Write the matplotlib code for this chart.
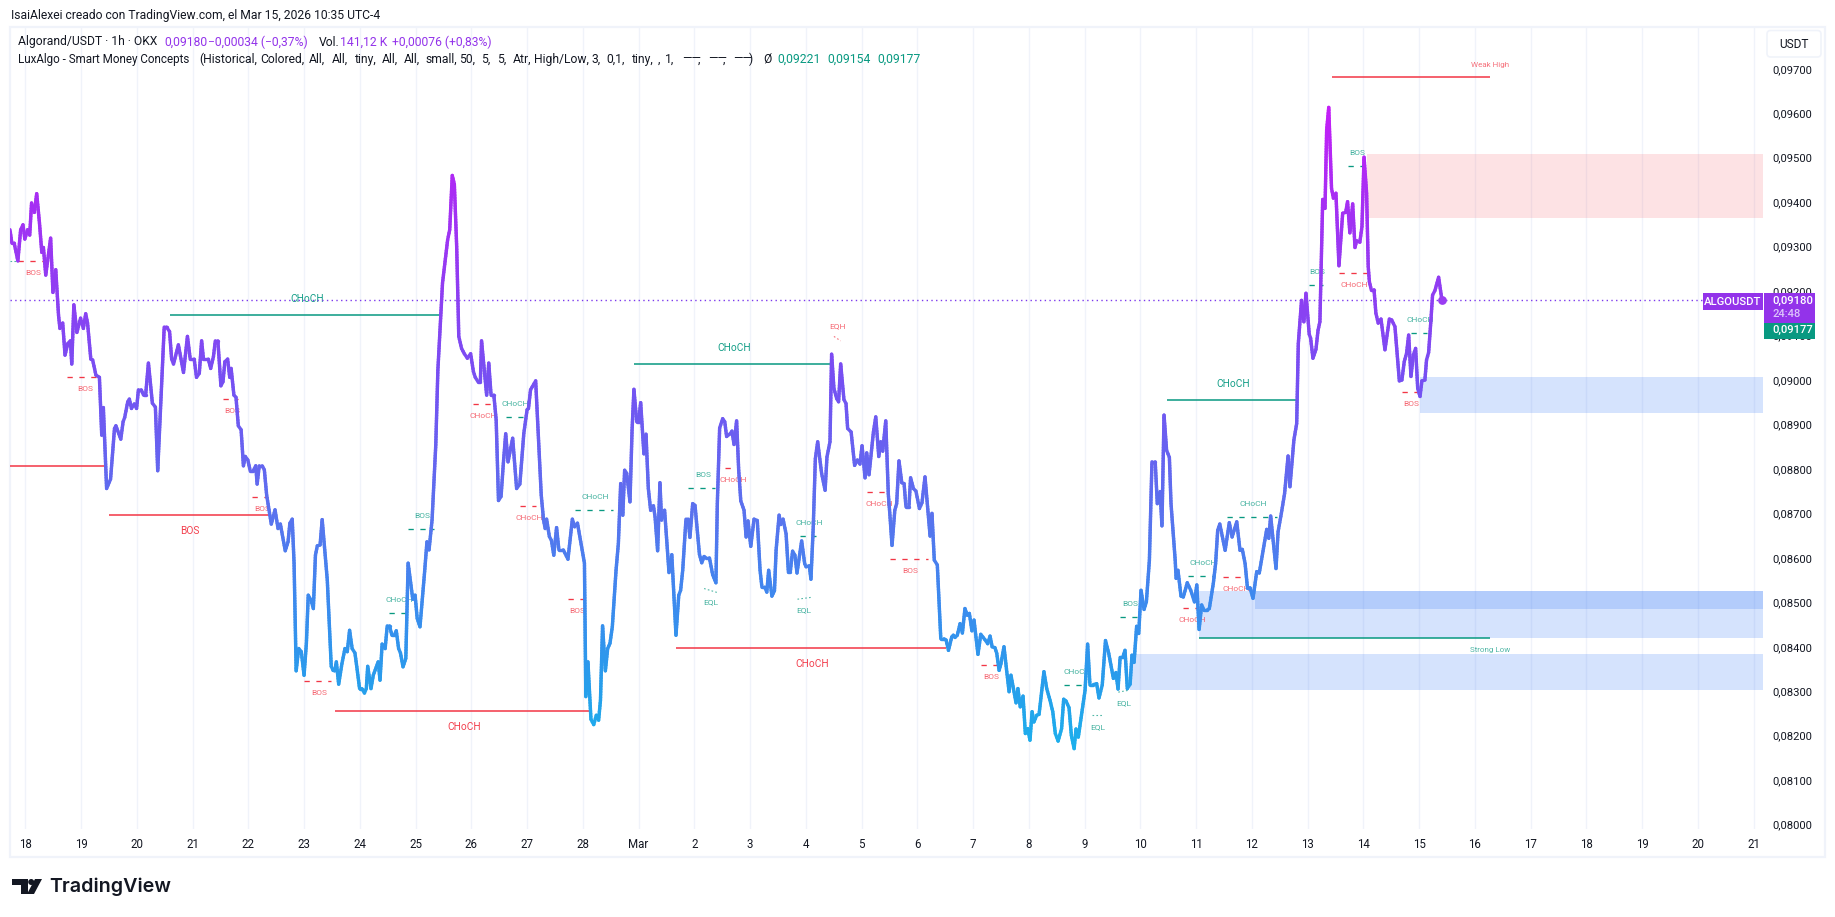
import numpy as np
import matplotlib
matplotlib.use("Agg")
import matplotlib.pyplot as plt
from matplotlib.collections import LineCollection
from matplotlib.colors import LinearSegmentedColormap
from matplotlib.patches import Circle, FancyBboxPatch, Polygon, Rectangle

W, H = 1835, 917
plt.rcParams["font.family"] = ["Roboto", "DejaVu Sans"]

GREEN = "#089981"
RED = "#f23645"
BLUE = "#2d73f5"
PURPLE = "#9333ea"
INK = "#131722"

# hourly closes, hours counted from 18 Feb 00:00, price in 1e-5 USDT
hours = [
    -6.6, -5.8, -4.8, -3.2, -2.0, -1.0, -0.2, 1.0, 1.9, 2.7, 3.9, 4.9, 6.1, 7.1, 7.8, 8.8, 10.9, 11.9, 13.1, 14.3,
    14.9, 16.1, 17.1, 18.3, 19.4, 20.0, 20.9, 22.2, 23.8, 25.0, 26.0, 26.8, 28.2, 29.0, 30.4, 31.9, 32.9, 33.6, 35.0, 36.7,
    38.4, 39.0, 41.1, 42.1, 42.8, 44.1, 44.8, 45.7, 46.9, 47.9, 48.7, 49.9, 50.9, 51.8, 53.0, 54.7, 56.0, 57.0, 59.8, 60.8,
    62.1, 63.0, 63.8, 65.9, 68.1, 69.8, 71.0, 72.7, 73.7, 74.9, 75.9, 76.7, 78.8, 79.8, 81.0, 81.8, 82.9, 84.2, 85.1, 85.9,
    87.1, 88.0, 88.6, 89.8, 90.7, 91.7, 92.9, 93.9, 94.7, 95.8, 96.8, 98.1, 99.2, 99.8, 100.7, 102.0, 102.9, 103.9, 105.9, 107.5,
    108.8, 109.8, 111.9, 113.1, 113.9, 114.9, 115.7, 116.6, 117.7, 118.8, 120.0, 121.0, 121.8, 123.0, 124.0, 124.9, 125.7, 126.9, 127.8, 130.0,
    131.7, 132.5, 133.2, 133.9, 134.9, 136.3, 137.6, 138.6, 139.6, 140.7, 141.9, 142.7, 143.9, 144.9, 146.0, 146.8, 147.4, 148.8, 149.8, 151.9,
    152.7, 153.6, 154.9, 155.8, 156.8, 157.8, 158.8, 159.7, 160.7, 161.5, 162.6, 163.8, 164.8, 166.8, 167.8, 168.7, 169.9, 171.9, 172.9, 173.8,
    175.1, 176.7, 177.6, 179.6, 181.8, 182.7, 183.8, 184.7, 185.7, 186.6, 187.8, 189.0, 190.3, 191.7, 192.9, 193.7, 194.9, 195.9, 196.4, 198.6,
    199.5, 200.5, 201.7, 202.7, 203.7, 204.8, 205.8, 206.8, 207.8, 209.8, 211.5, 212.9, 214.6, 216.0, 216.6, 217.5, 219.7, 222.1, 223.1, 223.8,
    224.4, 225.6, 226.5, 227.5, 228.7, 229.7, 231.6, 233.6, 235.5, 236.5, 237.7, 240.7, 241.3, 242.2, 243.5, 244.7, 245.8, 246.8, 247.6, 248.5,
    249.7, 250.7, 251.7, 252.7, 254.3, 255.3, 256.3, 257.2, 258.0, 258.9, 260.3, 261.2, 262.0, 263.2, 264.0, 264.9, 266.3, 267.2, 268.2, 269.2,
    270.4, 271.1, 272.2, 273.2, 273.9, 275.2, 277.1, 278.3, 280.1, 281.3, 282.1, 283.0, 284.4, 285.3, 286.1, 287.3, 288.3, 290.2, 291.2, 292.2,
    293.0, 294.5, 295.9, 297.3, 297.9, 298.9, 300.2, 301.1, 301.9, 303.4, 304.2, 305.1, 306.2, 307.1, 308.0, 309.4, 310.3, 311.1, 312.3, 313.7,
    315.1, 316.3, 317.1, 318.3, 319.2, 320.0, 321.4, 322.5, 323.2, 324.5, 325.2, 326.2, 327.5, 328.5, 329.3, 330.3, 331.3, 332.2, 334.2, 335.5,
    336.1, 337.5, 338.2, 339.2, 340.1, 341.1, 342.8, 344.3, 345.1, 346.4, 347.1, 348.1, 349.3, 350.1, 351.0, 352.4, 353.3, 354.0, 355.5, 357.0,
    358.2, 359.3, 360.2, 361.5, 362.2, 363.2, 365.1, 366.1, 367.4, 368.2, 369.1, 370.4, 371.5, 372.2, 373.1, 374.3, 375.1, 376.1, 377.3, 378.3,
    379.1, 380.4, 381.1, 382.3, 383.4, 384.9, 386.0, 387.3, 389.5, 390.3, 391.3, 392.6, 394.1, 395.5, 396.4, 397.4, 398.8, 399.5, 400.2, 401.2,
    402.4, 403.4, 404.5, 405.5, 406.4, 407.5, 408.4, 410.1, 411.3, 413.1, 414.3, 415.3, 416.2, 417.4, 418.2, 419.2, 420.0, 421.3, 422.5, 423.5,
    424.3, 426.5, 427.3, 428.3, 429.5, 430.5, 431.5, 432.5, 433.4, 434.2, 435.4, 436.4, 438.5, 439.7, 441.1, 442.3, 443.4, 444.6, 446.1, 447.0,
    448.0, 449.3, 450.3, 451.5, 452.3, 453.3, 456.2, 457.3, 458.3, 459.8, 461.2, 462.2, 463.6, 465.0, 466.4, 468.4, 469.5, 470.4, 471.3, 472.4,
    473.4, 474.4, 475.6, 476.4, 477.3, 478.4, 479.3, 480.3, 481.6, 482.6, 483.9, 485.0, 486.4, 487.3, 488.5, 489.3, 490.2, 491.3, 492.5, 493.2,
    495.0, 495.4, 496.2, 497.5, 498.5, 500.2, 501.7, 503.3, 504.3, 505.3, 506.4, 507.4, 508.6, 509.7, 511.4, 512.4, 513.3, 514.2, 516.5, 518.3,
    519.5, 521.5, 522.9, 523.9, 525.1, 526.1, 527.2, 528.5, 530.1, 531.2, 534.4, 535.3, 536.1, 538.4, 539.3, 540.7, 542.1, 543.6, 544.4, 546.1,
    547.3, 548.0, 549.4, 550.4, 551.3, 552.7, 553.3, 554.3, 555.6, 556.5, 557.3, 558.5, 559.5, 560.2, 561.1, 562.3, 563.1, 564.2, 565.5, 567.1,
    568.4, 569.2, 570.2, 571.4, 572.4, 573.1, 574.5, 575.4, 576.3, 577.4, 578.1, 578.6, 579.4, 580.6, 581.4, 582.4, 583.6, 585.3, 587.2, 588.2,
    589.6, 591.5, 592.6, 593.6, 594.6, 595.5, 596.5, 597.5, 598.5, 599.4, 600.4, 601.2, 602.5, 603.2, 604.1, 605.0, 605.8, 606.8, 608.4, 609.6,
    610.0,
]
closes = [
    9338, 9308, 9308, 9268, 9338, 9349, 9317, 9338, 9326, 9398, 9377, 9419, 9353, 9287, 9298, 9236, 9319, 9197, 9248, 9146,
    9116, 9128, 9056, 9082, 9088, 9036, 9169, 9107, 9139, 9116, 9149, 9128, 9047, 9045, 9011, 9006, 8876, 8938, 8756, 8777,
    8891, 8897, 8867, 8906, 8916, 8951, 8957, 8936, 8946, 8936, 8978, 8978, 8966, 8966, 9038, 8948, 8939, 8796, 9119, 9119,
    9109, 9047, 9036, 9079, 9017, 9098, 9047, 9047, 9006, 9015, 9088, 9047, 9047, 9026, 9053, 9088, 9088, 8987, 8996, 9041,
    9047, 9006, 9026, 8966, 8961, 8897, 8888, 8807, 8828, 8820, 8796, 8796, 8807, 8766, 8807, 8807, 8798, 8741, 8676, 8708,
    8666, 8676, 8616, 8636, 8678, 8687, 8588, 8346, 8396, 8389, 8336, 8408, 8516, 8505, 8486, 8606, 8627, 8629, 8686, 8550,
    8356, 8347, 8346, 8366, 8316, 8362, 8396, 8389, 8437, 8396, 8386, 8355, 8306, 8306, 8296, 8306, 8356, 8306, 8336, 8366,
    8325, 8406, 8396, 8447, 8447, 8426, 8426, 8436, 8396, 8386, 8355, 8374, 8588, 8507, 8516, 8464, 8445, 8569, 8636, 8618,
    8685, 8854, 9022, 9218, 9315, 9338, 9460, 9440, 9300, 9098, 9071, 9059, 9049, 9059, 9019, 9006, 8996, 8996, 9088, 8966,
    9038, 8966, 8966, 8910, 8729, 8738, 8813, 8879, 8816, 8869, 8756, 8766, 8880, 8933, 8936, 8978, 8998, 8741, 8685, 8666,
    8687, 8648, 8639, 8606, 8668, 8618, 8618, 8597, 8687, 8670, 8678, 8588, 8288, 8366, 8237, 8225, 8246, 8235, 8280, 8447,
    8346, 8396, 8408, 8445, 8572, 8632, 8767, 8696, 8797, 8790, 8726, 8887, 8979, 8906, 8906, 8949, 8834, 8878, 8756, 8707,
    8717, 8692, 8616, 8769, 8685, 8707, 8567, 8607, 8426, 8516, 8527, 8572, 8687, 8687, 8646, 8722, 8718, 8608, 8589, 8603,
    8600, 8600, 8562, 8544, 8722, 8892, 8913, 8906, 8873, 8879, 8885, 8855, 8908, 8797, 8728, 8707, 8647, 8683, 8626, 8687,
    8684, 8572, 8534, 8534, 8523, 8572, 8514, 8526, 8617, 8696, 8675, 8687, 8654, 8568, 8568, 8615, 8606, 8566, 8638, 8587,
    8580, 8582, 8552, 8670, 8823, 8861, 8790, 8752, 8827, 8861, 9058, 8981, 8958, 8951, 9036, 8956, 8947, 8891, 8883, 8808,
    8820, 8811, 8852, 8780, 8836, 8787, 8883, 8917, 8828, 8861, 8840, 8908, 8744, 8696, 8628, 8707, 8722, 8818, 8769, 8767,
    8715, 8715, 8780, 8756, 8750, 8711, 8724, 8782, 8649, 8700, 8595, 8584, 8418, 8418, 8415, 8392, 8422, 8426, 8421, 8426,
    8452, 8431, 8486, 8471, 8475, 8436, 8460, 8383, 8428, 8416, 8407, 8424, 8400, 8398, 8385, 8347, 8362, 8400, 8344, 8299,
    8336, 8274, 8306, 8265, 8289, 8205, 8216, 8190, 8254, 8231, 8246, 8248, 8344, 8306, 8280, 8254, 8205, 8188, 8216, 8282,
    8278, 8263, 8201, 8171, 8215, 8197, 8302, 8406, 8315, 8315, 8317, 8285, 8314, 8414, 8385, 8329, 8342, 8305, 8376, 8376,
    8392, 8306, 8316, 8381, 8365, 8446, 8430, 8527, 8484, 8501, 8595, 8816, 8816, 8722, 8749, 8672, 8921, 8842, 8826, 8722,
    8595, 8554, 8572, 8514, 8512, 8544, 8527, 8501, 8539, 8439, 8494, 8482, 8482, 8486, 8542, 8587, 8662, 8676, 8617, 8679,
    8647, 8681, 8617, 8619, 8587, 8533, 8533, 8509, 8569, 8566, 8664, 8644, 8694, 8576, 8659, 8700, 8745, 8829, 8760, 8865,
    8902, 9082, 9179, 9131, 9195, 9103, 9094, 9049, 9069, 9112, 9131, 9406, 9386, 9562, 9613, 9431, 9409, 9420, 9257, 9375,
    9377, 9401, 9331, 9396, 9298, 9313, 9310, 9345, 9501, 9420, 9255, 9221, 9203, 9203, 9150, 9128, 9137, 9068, 9137, 9135,
    9120, 8998, 9000, 9041, 9060, 9101, 9008, 9056, 9071, 8981, 8963, 8998, 9000, 9045, 9062, 9128, 9191, 9201, 9231, 9188,
    9180,
]

day_labels = ["18", "19", "20", "21", "22", "23", "24", "25", "26", "27", "28", "Mar",
              "2", "3", "4", "5", "6", "7", "8", "9", "10", "11", "12", "13", "14",
              "15", "16", "17", "18", "19", "20", "21"]
price_ticks = list(range(8000, 9701, 100))

# order blocks: first hour, top, bottom, colour
zone_start = [577.5, 600.4, 505.2, 529.4, 475.5]
zone_top = [9508, 9007, 8525, 8525, 8384]
zone_bottom = [9365, 8926, 8419, 8485, 8303]
zone_color = [RED, BLUE, BLUE, BLUE, BLUE]

# swing structure, solid lines with the larger labels
swing_start = [-6.6, 36.0, 62.3, 133.3, 262.0, 280.1, 491.5]
swing_end = [34.2, 104.8, 178.8, 243.4, 346.7, 396.2, 547.3]
swing_price = [8807, 8696, 9146, 8256, 9035, 8397, 8954]
swing_text = ["", "BOS", "CHoCH", "CHoCH", "CHoCH", "CHoCH", "CHoCH"]
swing_color = [RED, RED, GREEN, RED, GREEN, RED, GREEN]

# strong and weak extremes
extreme_start = [562.5, 505.2]
extreme_end = [630.5, 630.5]
extreme_price = [9681, 8419]
extreme_text = ["Weak High", "Strong Low"]
extreme_color = [RED, GREEN]

# internal structure, dashed lines with the small labels
inner_start = [-3.2, 18.0, 85.1, 97.8, 164.7, 192.7, 206.8, 212.9, 236.5, 156.5, 119.8, 233.5, 285.3, 301.2, 333.5,
               362.2, 372.2, 411.4, 447.1, 471.3, 498.4, 500.5, 515.6, 517.3, 552.6, 569.4, 565.5, 596.5, 592.6]
inner_end = [8.7, 32.4, 91.5, 104.6, 175.9, 200.5, 214.1, 220.0, 253.1, 164.4, 131.7, 240.8, 296.9, 307.0, 340.4,
             372.0, 388.7, 418.9, 457.6, 478.4, 505.0, 512.2, 525.5, 538.7, 558.5, 576.3, 577.4, 603.2, 599.7]
inner_price = [9267, 9006, 8957, 8736, 8666, 8945, 8916, 8716, 8707, 8475, 8324, 8507, 8756, 8801, 8650,
               8747, 8598, 8358, 8315, 8466, 8488, 8560, 8556, 8693, 9213, 9481, 9240, 9105, 8972]
inner_text = ["BOS", "BOS", "BOS", "BOS", "BOS", "CHoCH", "CHoCH", "CHoCH", "CHoCH", "CHoCH", "BOS", "BOS", "BOS", "CHoCH", "CHoCH",
              "CHoCH", "BOS", "BOS", "CHoCH", "BOS", "CHoCH", "CHoCH", "CHoCH", "CHoCH", "BOS", "BOS", "CHoCH", "CHoCH", "BOS"]
inner_color = [RED, RED, RED, RED, GREEN, RED, GREEN, RED, GREEN, GREEN, RED, RED, GREEN, RED, GREEN,
               RED, RED, RED, GREEN, GREEN, RED, GREEN, RED, GREEN, GREEN, GREEN, RED, GREEN, RED]

# equal highs and lows, dotted
equal_start = [-6.6, 292.2, 332.4, 459.2, 470.5, 348.1]
equal_end = [-3.2, 297.9, 338.1, 464.1, 474.8, 351.0]
equal_from = [9268, 8531, 8507, 8246, 8298, 9098]
equal_to = [9268, 8522, 8511, 8246, 8302, 9088]
equal_text = ["", "EQL", "EQL", "EQL", "EQL", "EQH"]
equal_color = [GREEN, GREEN, GREEN, GREEN, GREEN, RED]

# indicator settings, printed one by one because the legend spaces them widely
setting_text = ["LuxAlgo - Smart Money Concepts", "(Historical,", "Colored,", "All,", "All,", "tiny,", "All,", "All,",
                "small,", "50,", "5,", "5,", "Atr,", "High/Low,", "3,", "0,1,", "tiny,", ",", "1,",
                "——", ",", "——", ",", "——", ")"]
setting_x = [18, 199, 260.6, 309, 331.5, 354.5, 382, 404,
             426, 459, 480.6, 497, 512.7, 533.5, 592, 606, 631.5, 658, 665,
             682, 697.5, 708, 723, 733, 749]

last_close = closes[-1]
last_signal = 9177
hours_left = (10 - 25.3) / 2.323
hours_right = (1763 - 25.3) / 2.323


def fx(px):
    return px / W


def fy(px):
    return 1 - px / H


def ftext(x, y, s, color=INK, size=8.72, ha="left", **kw):
    return fig.text(fx(x), fy(y), s, color=color, fontsize=size, ha=ha, va="center", zorder=8, **kw)


def price_str(v):
    return f"{v / 1e5:.5f}".replace(".", ",")


def gradient_line(ax, xs, ys, cmap, low, high):
    # split long legs so the colour follows the price inside each leg
    segs, vals = [], []
    for x0, x1, y0, y1 in zip(xs[:-1], xs[1:], ys[:-1], ys[1:]):
        n = max(1, int(abs(y1 - y0) / 6))
        px = np.linspace(x0, x1, n + 1)
        py = np.linspace(y0, y1, n + 1)
        for i in range(n):
            segs.append([(px[i], py[i]), (px[i + 1], py[i + 1])])
            vals.append((py[i] + py[i + 1]) / 2)
    lc = LineCollection(segs, cmap=cmap, linewidths=2.45, capstyle="round", zorder=5)
    lc.set_array(np.array(vals))
    lc.set_clim(low, high)
    ax.add_collection(lc)


fig = plt.figure(figsize=(W / 100, H / 100), dpi=100, facecolor="white")

# outer frame of the chart panel
fig.add_artist(Rectangle((fx(9.5), fy(857)), (1825 - 9.5) / W, (857 - 26.5) / H, transform=fig.transFigure,
                         fill=False, edgecolor="#f0f3fa", linewidth=1.6, zorder=1))

ax = fig.add_axes([fx(10), fy(829), (1763 - 10) / W, (829 - 27) / H], facecolor="none", zorder=2)
ax.set_xlim(hours_left, hours_right)
ax.set_ylim(9000 - 449 * 2.249, 9000 + 353 * 2.249)
for spine in ax.spines.values():
    spine.set_visible(False)

ax.set_xticks([24 * i for i in range(len(day_labels))])
ax.set_xticklabels(day_labels, fontsize=8.3, color=INK)
ax.set_yticks(price_ticks)
ax.set_yticklabels([price_str(v) for v in price_ticks], fontsize=8.1, color=INK, ha="left")
ax.yaxis.tick_right()
ax.tick_params(axis="x", length=0, pad=6.5)
ax.tick_params(axis="y", length=0, pad=6.5)
ax.grid(axis="x", color="#f0f3fa", linewidth=1.0)
ax.set_axisbelow(True)

for start, top, bottom, color in zip(zone_start, zone_top, zone_bottom, zone_color):
    alpha = 0.14 if color == RED else 0.2
    ax.add_patch(Rectangle((start, bottom), hours_right - start, top - bottom, facecolor=color,
                           edgecolor="none", alpha=alpha, zorder=1))

for a, b, p, s, c in zip(swing_start, swing_end, swing_price, swing_text, swing_color):
    ax.plot([a, b], [p, p], color=c, linewidth=1.1, solid_capstyle="butt", zorder=3)
    off = 16 if c == GREEN else -16
    ax.annotate(s, ((a + b) / 2, p), xytext=(1, off * 0.72), textcoords="offset points", ha="center",
                va="center", color=c, fontsize=7.3, alpha=0.95, zorder=4)

for a, b, p, s, c in zip(extreme_start, extreme_end, extreme_price, extreme_text, extreme_color):
    ax.plot([a, b], [p, p], color=c, linewidth=1.1, solid_capstyle="butt", zorder=3)
    off = 12 if s == "Weak High" else -12
    ax.annotate(s, (b, p), xytext=(0, off * 0.72), textcoords="offset points", ha="center", va="center",
                color=c, fontsize=5.8, alpha=0.7, zorder=4)

for a, b, p, s, c in zip(inner_start, inner_end, inner_price, inner_text, inner_color):
    ax.plot([a, b], [p, p], color=c, linewidth=0.95, linestyle=(0, (4, 5)), dash_capstyle="butt", zorder=3)
    off = 13 if c == GREEN else -12
    ax.annotate(s, ((a + b) / 2, p), xytext=(1, off * 0.72), textcoords="offset points", ha="center",
                va="center", color=c, fontsize=6.0, alpha=0.75, zorder=4)

for a, b, p0, p1, s, c in zip(equal_start, equal_end, equal_from, equal_to, equal_text, equal_color):
    ax.plot([a, b], [p0, p1], color=c, linewidth=0.8, linestyle=(0, (1.5, 2)), alpha=0.7, zorder=3)
    off = 12 if s == "EQH" else -12
    ax.annotate(s, ((a + b) / 2, (p0 + p1) / 2), xytext=(0, off * 0.72), textcoords="offset points",
                ha="center", va="center", color=c, fontsize=6.0, alpha=0.75, zorder=4)

# close line with the price-following colour, plus the last price marker
price_cmap = LinearSegmentedColormap.from_list("close", [
    (0.0, "#1cb0ec"), (0.09, "#269feb"), (0.229, "#3c8aee"), (0.367, "#5a72ee"),
    (0.575, "#7650f2"), (0.714, "#8f3ef2"), (0.853, "#a62ff3"), (1.0, "#c41ef7")])
ax.axhline(last_close, xmax=(1703 - 10) / (1763 - 10), color="#7c3aed", linewidth=1.0,
           linestyle=(0, (1, 2.4)), zorder=4)
gradient_line(ax, hours, closes, price_cmap, 8170, 9613)
ax.plot([hours[-1]], [last_close], "o", color="#9a3cf2", markersize=6.3, markeredgewidth=0, zorder=6)

# header lines
ftext(11, 15, "IsaiAlexei creado con TradingView.com, el Mar 15, 2026 10:35 UTC-4")
ftext(18, 42, "Algorand/USDT · 1h · OKX")
ftext(164.8, 42, price_str(last_close), color=PURPLE)
ftext(208, 42, "−0,00034 (−0,37%)", color=PURPLE)
ftext(319, 42, "Vol.")
ftext(340, 42, "141,12 K", color=PURPLE)
ftext(391.5, 42, "+0,00076 (+0,83%)", color=PURPLE)
for x, s in zip(setting_x, setting_text):
    ftext(x, 59, s, size=8.35 if s.startswith("LuxAlgo") else 8.72)
ftext(763.6, 59, "Ø")
ftext(777.6, 59, "0,09221", color=GREEN)
ftext(827, 59, "0,09154", color=GREEN)
ftext(877, 59, price_str(last_signal), color=GREEN)

# price scale badges
fig.add_artist(FancyBboxPatch((fx(1767), fy(57)), (1821 - 1767) / W, 26.5 / H, transform=fig.transFigure,
                              boxstyle="round,pad=0,rounding_size=0.002", mutation_aspect=2, facecolor="white",
                              edgecolor="#f0f3fa", linewidth=1.2, zorder=5))
ftext(1794, 44, "USDT", ha="center", size=8.6)
for x0, x1, y0, y1, c in [(1703, 1763, 293, 310, PURPLE), (1764, 1815, 293, 323, PURPLE), (1764, 1815, 323, 339, GREEN)]:
    fig.add_artist(Rectangle((fx(x0), fy(y1)), (x1 - x0) / W, (y1 - y0) / H, transform=fig.transFigure,
                             facecolor=c, edgecolor="none", zorder=6))
ftext(1733, 302, "ALGOUSDT", color="white", ha="center", size=8.1, fontweight="medium")
ftext(1772, 301, price_str(last_close), color="white", size=8.1, fontweight="medium")
ftext(1772, 314, "24:48", color="#dcc4fb", size=8.1, fontweight="medium")
ftext(1772, 330, price_str(last_signal), color="white", size=8.1, fontweight="medium")

# footer logo
for pts in [[(12, 879), (28, 879), (28, 894), (21, 894), (21, 885), (12, 885)],
            [(35, 879), (42, 879), (34, 894), (27, 894)]]:
    fig.add_artist(Polygon([(fx(x), fy(y)) for x, y in pts], closed=True, transform=fig.transFigure,
                           facecolor=INK, edgecolor="none", zorder=6))
dot = Circle((31.2, H - 882), 3.0, transform=None, facecolor=INK, edgecolor="none", zorder=6)
fig.add_artist(dot)
ftext(49, 887, "TradingView", size=14.2, family=["Inter", "DejaVu Sans"], fontweight="semibold")

fig.savefig("out.png", dpi=100, facecolor="white")
